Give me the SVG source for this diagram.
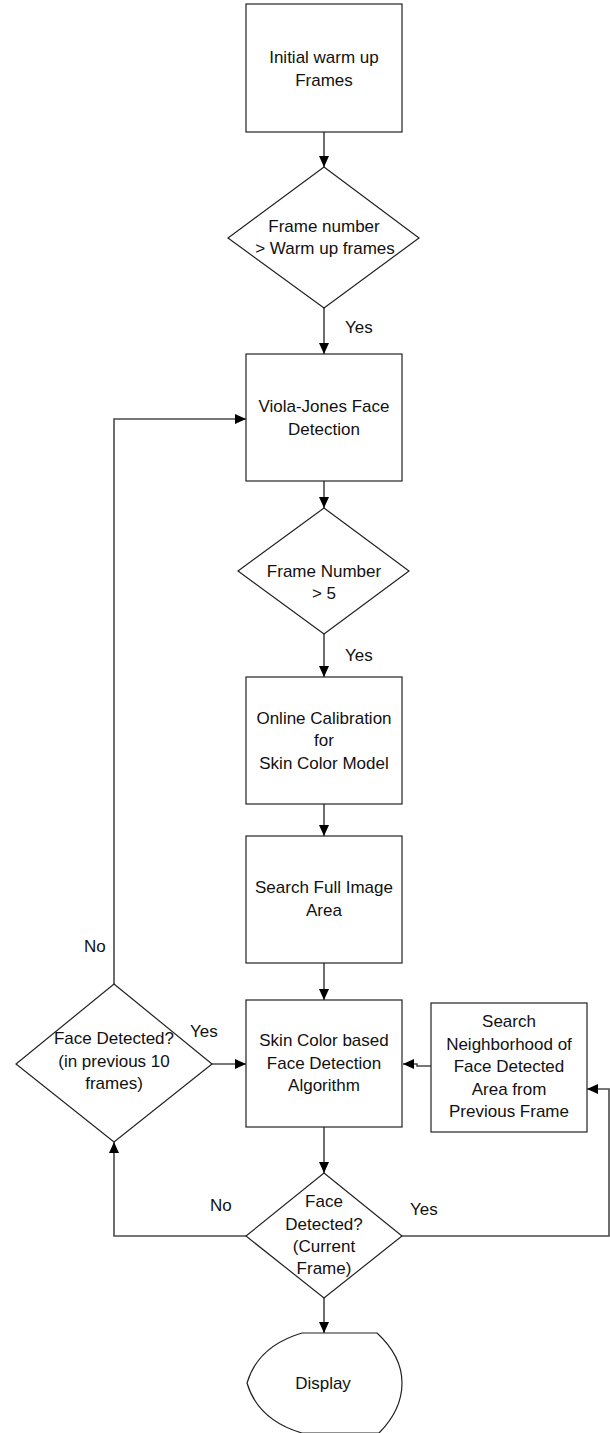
<svg xmlns="http://www.w3.org/2000/svg" width="610" height="1433" viewBox="0 0 610 1433">
<style>
.s{fill:#fff;stroke:#222;stroke-width:1.2}
.c{fill:none;stroke:#4a4a4a;stroke-width:1.6}
text{font-family:"Liberation Sans",Arial,sans-serif;font-size:17px;fill:#111}
.m{text-anchor:middle}
</style>
<defs>
<marker id="a" markerUnits="userSpaceOnUse" markerWidth="12" markerHeight="11" refX="11" refY="5" orient="auto">
<path d="M0,0 L11,5 L0,10 z" fill="#000"/>
</marker>
</defs>
<rect width="610" height="1433" fill="#fff"/>
<g id="connectors">
<path class="c" d="M324,132 V167" marker-end="url(#a)"/>
<path class="c" d="M324,308 V354" marker-end="url(#a)"/>
<path class="c" d="M324,481 V508" marker-end="url(#a)"/>
<path class="c" d="M324,634 V677" marker-end="url(#a)"/>
<path class="c" d="M324,804 V836" marker-end="url(#a)"/>
<path class="c" d="M324,963 V1000" marker-end="url(#a)"/>
<path class="c" d="M324,1127 V1173" marker-end="url(#a)"/>
<path class="c" d="M324,1298 V1333" marker-end="url(#a)"/>
<path class="c" d="M114,984 V419 H246" marker-end="url(#a)"/>
<path class="c" d="M212,1064 H246" marker-end="url(#a)"/>
<path class="c" d="M431,1066 H417 V1064 H403" marker-end="url(#a)"/>
<path class="c" d="M402,1236 H609 V1089 H587" marker-end="url(#a)"/>
<path class="c" d="M246,1236 H114 V1142" marker-end="url(#a)"/>
<text x="345" y="333">Yes</text>
<text x="345" y="661">Yes</text>
<text x="84" y="952">No</text>
<text x="190" y="1037">Yes</text>
<text x="210" y="1211">No</text>
<text x="410" y="1215">Yes</text>
</g>
<g id="n1">
<rect class="s" x="246" y="4" width="156" height="128"/>
<text class="m" x="324" y="62.5">Initial warm up</text>
<text class="m" x="324" y="85.5">Frames</text>
</g>
<g id="n2">
<polygon class="s" points="324,167 419,238 324,308 228,238"/>
<text class="m" x="324" y="232">Frame number</text>
<text class="m" x="325" y="254">&gt; Warm up frames</text>
</g>
<g id="n3">
<rect class="s" x="246" y="354" width="156" height="127"/>
<text class="m" x="324" y="412">Viola-Jones Face</text>
<text class="m" x="324" y="435">Detection</text>
</g>
<g id="n4">
<polygon class="s" points="324,508 409,571 324,634 238,571"/>
<text class="m" x="324" y="577">Frame Number</text>
<text class="m" x="324" y="599">&gt; 5</text>
</g>
<g id="n5">
<rect class="s" x="246" y="677" width="156" height="127"/>
<text class="m" x="324" y="724">Online Calibration</text>
<text class="m" x="324" y="746">for</text>
<text class="m" x="324" y="768.5">Skin Color Model</text>
</g>
<g id="n6">
<rect class="s" x="246" y="836" width="156" height="127"/>
<text class="m" x="324" y="892.5">Search Full Image</text>
<text class="m" x="324" y="915.5">Area</text>
</g>
<g id="n7">
<rect class="s" x="246" y="1000" width="156" height="127"/>
<text class="m" x="324" y="1046">Skin Color based</text>
<text class="m" x="324" y="1068.5">Face Detection</text>
<text class="m" x="324" y="1090.5">Algorithm</text>
</g>
<g id="n8">
<rect class="s" x="431" y="1003" width="156" height="129"/>
<text class="m" x="509" y="1027">Search</text>
<text class="m" x="509" y="1049.5">Neighborhood of</text>
<text class="m" x="509" y="1072">Face Detected</text>
<text class="m" x="509" y="1094.5">Area from</text>
<text class="m" x="509" y="1117">Previous Frame</text>
</g>
<g id="n9">
<polygon class="s" points="114,984 212,1064 114,1142 16,1064"/>
<text class="m" x="114" y="1044">Face Detected?</text>
<text class="m" x="114" y="1066.5">(in previous 10</text>
<text class="m" x="114" y="1088.5">frames)</text>
</g>
<g id="n10">
<polygon class="s" points="324,1173 402,1236 324,1298 246,1236"/>
<text class="m" x="324" y="1207">Face</text>
<text class="m" x="324" y="1229.5">Detected?</text>
<text class="m" x="324" y="1252">(Current</text>
<text class="m" x="324" y="1274">Frame)</text>
</g>
<g id="n11">
<path class="s" d="M302,1333 H377 Q402,1356 402,1383 Q402,1410 379,1433 H302 Q258,1420 247,1383 Q258,1346 302,1333 Z"/>
<text class="m" x="323" y="1388.5">Display</text>
</g>
</svg>
